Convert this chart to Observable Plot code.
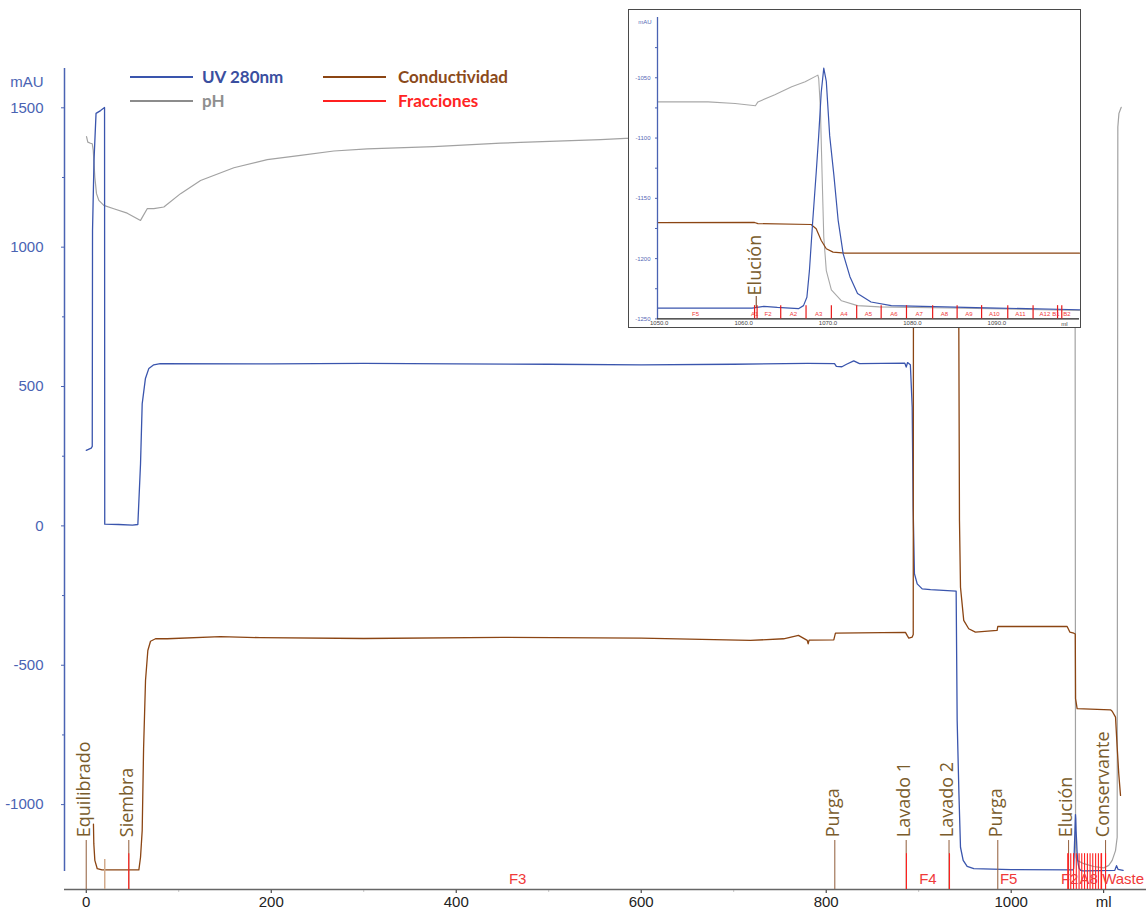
<!DOCTYPE html>
<html><head><meta charset="utf-8">
<script src="https://cdn.jsdelivr.net/npm/d3@7"></script>
<script src="https://cdn.jsdelivr.net/npm/@observablehq/plot@0.6"></script>
<style>
body{margin:0;background:#fff;}
#wrap{position:relative;width:1146px;height:911px;overflow:hidden;background:#fff;}
#main{position:absolute;left:0;top:0;}
#inset{position:absolute;left:628px;top:9px;border:1.5px solid #4a4a4a;background:#fff;line-height:0;}
#legend{position:absolute;left:0;top:0;}
</style></head>
<body><div id="wrap"><div id="main"></div><div id="inset"></div><svg id="legend" width="620" height="120"></svg></div>
<script>
// ---------------- DATA (ml, mAU) ----------------
const uvMain = [[0,271],[5.4,279],[6.5,285],[6.8,1060],[8.4,1311],[10.6,1480],[15.5,1490],[19.8,1501],[20.0,6],[35,5],[50,3],[55.8,5],[58.7,223],[60.5,438],[64,529],[67.7,565],[73,578],[80,582],[200,581],[300,583],[400,581],[500,580],[600,578],[700,580],[780,583],[809,582],[811,572],[817,571],[822,580],[829.8,592],[836,582],[885,584],[886.5,570],[888,586],[891,578],[893,426],[894,67],[895.4,-171],[898.4,-208],[903.8,-226],[912.8,-229],[940.5,-234],[941.6,-698],[943.5,-960],[945.2,-1153],[948.1,-1200],[952.4,-1222],[959.6,-1230],[1000,-1233],[1067,-1234],[1067.5,-1230],[1067.8,-1208],[1068.2,-1168],[1068.6,-1128],[1068.9,-1096],[1069.2,-1062],[1069.5,-1036],[1069.8,-1050],[1070.2,-1096],[1070.7,-1130],[1071.2,-1168],[1071.8,-1196],[1072.6,-1215],[1073.5,-1229],[1075.1,-1236],[1077.5,-1238],[1112,-1236],[1113.9,-1219],[1115.5,-1232],[1121,-1236]];
const phMain = [[0.3,1397],[1.7,1377],[4.6,1373],[6.5,1371],[7.6,1347],[9.3,1251],[11.1,1192],[13.6,1168],[19,1150],[29.8,1138],[44.3,1122],[58.7,1096],[65.9,1138],[73.1,1138],[83.9,1144],[102,1192],[123.6,1239],[159.6,1285],[195.7,1314],[231.7,1329],[267.7,1345],[303.8,1353],[375.8,1361],[448,1373],[469.5,1376],[556,1386],[583,1390],[700,1395],[900,1398],[1069,1400],[1069.6,-1150],[1070.2,-1190],[1071.2,-1200],[1078.5,-1212],[1089.3,-1222],[1100.1,-1227],[1105.5,-1218],[1109.2,-1200],[1112.8,-1165],[1114.6,-1117],[1115.3,1431],[1116.5,1480],[1119,1502]];
const condMain = [[7.8,-1070],[8.2,-1141],[9.3,-1200],[11.9,-1230],[17,-1234],[56.9,-1234],[58.7,-1189],[60.5,-1093],[62,-800],[64.1,-554],[66.6,-447],[69.5,-414],[74.9,-405],[87.6,-405],[145,-397],[188,-401],[300,-404],[450,-400],[600,-403],[718,-411],[754,-405],[770,-393],[779.5,-411],[780.5,-423],[781.5,-410],[808.2,-409],[810,-385],[885.7,-382],[887.5,-393],[889.3,-403],[893,-399],[894.1,-390],[894.5,1700],[943,1700],[943.4,700],[944.1,19],[945.2,-220],[948.7,-339],[954.1,-369],[961.3,-381],[984.8,-375],[985.5,-361],[1060.5,-361],[1063.4,-381],[1067.7,-385],[1069.3,-388],[1069.6,-620],[1071.3,-656],[1107.4,-660],[1109.2,-665],[1112.8,-686],[1114.6,-794],[1116.3,-889],[1118.2,-967]];

const fractionMl = [46,886.8,933.3,1061.3,1061.6,1064.4,1067.4,1070.4,1073.4,1076.3,1079.3,1082.4,1085.3,1088.2,1091.3,1094.3,1097.2,1097.7,1102];
const fractionLabels = ["F3","F4","F5","F2","A8","Waste"];
const fractionLabelMl = [466.4,910,997.3,1063.2,1083.9,1121];

const eventNames = ["Equilibrado","Siembra","Purga","Lavado 1","Lavado 2","Purga","Elución","Conservante"];
const eventMl = [0,46,809.3,886.5,932.8,985.5,1062,1102];
const injectionMl = [20];

const xTicks = [0,200,400,600,800,1000,1100];
const xMinorTicks = [100,300,500,700,900];
const yTicks = [-1000,-500,0,500,1000,1500];
const yMinorTicks = [-750,-250,250,750,1250];

// inset (zoom of elution)
const insetPH = [[1049.8,-1070],[1055.8,-1070],[1059,-1071.3],[1061.4,-1073.2],[1061.7,-1070],[1063.7,-1064],[1065.7,-1057.5],[1067.3,-1053.3],[1068.8,-1047.8],[1068.9,-1050.6],[1069.1,-1075.5],[1069.3,-1130],[1069.5,-1182],[1069.8,-1210],[1070.4,-1226],[1071.6,-1235],[1073.5,-1239],[1076.1,-1240],[1084.4,-1241],[1099.8,-1243]];
const insetUV = [[1049.8,-1241],[1061,-1241],[1062.4,-1239.6],[1064,-1240.5],[1066.5,-1241.5],[1067.1,-1239],[1067.5,-1232],[1067.8,-1210],[1068.2,-1168],[1068.6,-1129],[1068.9,-1098],[1069.2,-1062],[1069.5,-1042],[1069.8,-1053],[1070.2,-1098],[1070.7,-1131],[1071.2,-1168],[1071.8,-1196],[1072.6,-1215],[1073.5,-1229],[1075.1,-1236],[1077.5,-1239],[1090,-1241],[1099.8,-1242.4]];
const insetCond = [[1049.8,-1170.2],[1061.3,-1170],[1061.7,-1171],[1068.0,-1171.7],[1068.6,-1175.2],[1069.2,-1185],[1069.8,-1191.8],[1070.6,-1194.6],[1072.0,-1195.4],[1099.8,-1195.4]];
const insetFractionMl = [1061.3,1061.6,1064.4,1067.4,1070.4,1073.4,1076.3,1079.3,1082.4,1085.3,1088.2,1091.3,1094.3,1097.2,1097.7];
const insetFractionLabels = ["F5","A1","F2","A2","A3","A4","A5","A6","A7","A8","A9","A10","A11","A12","B1","B2"];
const insetFractionLabelMl = [1054.3,1061.3,1062.9,1065.9,1068.9,1071.9,1074.8,1077.8,1080.8,1083.8,1086.7,1089.7,1092.8,1095.7,1097.0,1098.3];
const insetEventNames = ["Elución"];
const insetEventMl = [1061.5];
const insetXTicks = [1050,1060,1070,1080,1090];
const insetYTicks = [-1250,-1200,-1150,-1100,-1050];
const insetYMinor = [-1225,-1175,-1125,-1075,-1025];

const legendNames = ["UV 280nm","pH","Conductividad","Fracciones"];

// ---------------- STYLE ----------------
const C_UV = "#3a55ad", C_PH = "#a2a2a2", C_COND = "#8b4513", C_FRAC = "#ff2020";
const C_AXIS_Y = "#4a63b3", C_EVENT_TXT = "#7a5c2c", C_EVENT_LINE = "#9a6a4a";
const FONT = "Liberation Sans, Arial, sans-serif";
const plain = d => String(d);

const X0 = -23.5, X1 = 1146.3, Y0 = -1304.6, Y1 = 1885;
const pt = d => d[0], pv = d => d[1];

const main = Plot.plot({
  width: 1146, height: 911,
  marginLeft: 64, marginRight: 0, marginTop: 0, marginBottom: 22,
  x: {domain: [X0, X1]},
  y: {domain: [Y0, Y1]},
  style: {fontFamily: FONT, fontSize: "15px", background: "white", overflow: "hidden"},
  marks: [
    Plot.axisX({ticks: xMinorTicks, tickSize: 3, tickFormat: () => "", stroke: "#c8c8c8", label: null}),
    Plot.axisX({ticks: xTicks, tickSize: 4, tickPadding: 3, fontSize: 15, color: "#222", label: null,
      tickFormat: d => d === 1100 ? "ml" : String(d)}),
    Plot.axisY({ticks: yMinorTicks, tickSize: 2, tickFormat: () => "", color: C_AXIS_Y, label: null}),
    Plot.axisY({ticks: yTicks, tickSize: 3, tickPadding: 18, fontSize: 15, color: C_AXIS_Y, label: null, tickFormat: plain}),
    Plot.ruleX([X0], {y1: () => -1240, y2: () => 1641, stroke: C_AXIS_Y, strokeWidth: 1.5}),
    Plot.ruleY([Y0], {stroke: "#666", strokeWidth: 1.5}),
    Plot.text(["mAU"], {x: () => X0, y: () => 1591, dx: -21, textAnchor: "end", fill: C_AXIS_Y, fontSize: 15}),
    Plot.line(phMain, {x: pt, y: pv, stroke: C_PH, strokeWidth: 1.2}),
    Plot.line(uvMain, {x: pt, y: pv, stroke: C_UV, strokeWidth: 1.3}),
    Plot.line(condMain, {x: pt, y: pv, stroke: C_COND, strokeWidth: 1.3}),
    Plot.ruleX(injectionMl, {y1: () => -1197, y2: () => Y0, stroke: "#d2ab8c", strokeWidth: 1.5}),
    Plot.ruleX(eventMl, {y1: () => -1129, y2: () => Y0, stroke: C_EVENT_LINE, strokeWidth: 1.1}),
    Plot.ruleX(fractionMl, {y1: () => -1176, y2: () => Y0, stroke: C_FRAC, strokeWidth: 1.1}),
    Plot.text(fractionLabels, {x: (d, i) => fractionLabelMl[i], y: () => -1268, text: d => d, fill: "#f03a3a", fontSize: 15}),
    Plot.text(eventNames, {x: (d, i) => eventMl[i], y: () => -1117, text: d => d, rotate: -90,
      textAnchor: "start", lineAnchor: "middle", dx: -2, fontSize: 18, fontFamily: "Open Sans", fill: C_EVENT_TXT})
  ]
});
document.getElementById("main").appendChild(main);

const inset = Plot.plot({
  width: 451, height: 317,
  marginLeft: 28, marginRight: 1, marginTop: 7, marginBottom: 8.6,
  x: {domain: [1049.8, 1099.8]},
  y: {domain: [-1250, -1000]},
  style: {fontFamily: FONT, fontSize: "6px", background: "white", overflow: "hidden"},
  marks: [
    Plot.axisY({ticks: insetYMinor, tickSize: 2, tickFormat: () => "", color: C_AXIS_Y, label: null}),
    Plot.axisY({ticks: insetYTicks, tickSize: 2, tickPadding: 5, fontSize: 6, color: "#5468b5", label: null, tickFormat: plain}),
    Plot.axisX({ticks: insetXTicks, tickSize: 0, tickPadding: 2, fontSize: 6, color: "#444", label: null,
      tickFormat: d => d.toFixed(1)}),
    Plot.text(["ml"], {x: () => 1098, y: () => -1250, dy: 5, fill: "#444", fontSize: 6}),
    Plot.text(["mAU"], {x: () => 1049.8, y: () => -1000, dx: -6, dy: 5, textAnchor: "end", fill: "#5468b5", fontSize: 6}),
    Plot.line(insetPH, {x: pt, y: pv, stroke: "#a8a8a8", strokeWidth: 1.1}),
    Plot.line(insetCond, {x: pt, y: pv, stroke: C_COND, strokeWidth: 1.2}),
    Plot.line(insetUV, {x: pt, y: pv, stroke: C_UV, strokeWidth: 1.2}),
    Plot.ruleX([1049.8], {y1: () => -1250, y2: () => -1000, stroke: C_AXIS_Y, strokeWidth: 1.3}),
    Plot.ruleY([-1250], {stroke: "#222", strokeWidth: 1.3}),
    Plot.ruleX(insetFractionMl, {y1: () => -1250, y2: () => -1239, stroke: "#e81a1a", strokeWidth: 1.2}),
    Plot.text(insetFractionLabels, {x: (d, i) => insetFractionLabelMl[i], y: () => -1246.4, text: d => d, fill: "#f03a3a", fontSize: 6}),
    Plot.ruleX(insetEventMl, {y1: () => -1231.5, y2: () => -1241, stroke: "#7a4a2a", strokeWidth: 1.1}),
    Plot.text(insetEventNames, {x: (d, i) => insetEventMl[i], y: () => -1230.5, text: d => d, rotate: -90,
      textAnchor: "start", lineAnchor: "middle", dx: -1, fontSize: 18, fontFamily: "Open Sans", fill: C_EVENT_TXT})
  ]
});
document.getElementById("inset").appendChild(inset);

// ---------------- LEGEND ----------------
const legendColors = [C_UV, "#8c8c8c", C_COND, C_FRAC];
const legendText = ["#3a4fa0", "#8f8f8f", "#8b4a1a", "#ff2424"];
const lg = d3.select("#legend");
legendNames.forEach((name, i) => {
  const col = Math.floor(i / 2), row = i % 2;
  const x0 = col === 0 ? 130 : 323, y = row === 0 ? 77 : 101;
  lg.append("line").attr("x1", x0).attr("x2", x0 + 63).attr("y1", y).attr("y2", y)
    .attr("stroke", legendColors[i]).attr("stroke-width", 2);
  lg.append("text").attr("x", x0 + (col === 0 ? 72 : 75)).attr("y", y).attr("dy", "0.35em")
    .attr("font-family", "Lato, sans-serif").attr("font-weight", "bold").attr("font-size", 17)
    .attr("fill", legendText[i]).text(name);
});
</script></body></html>
